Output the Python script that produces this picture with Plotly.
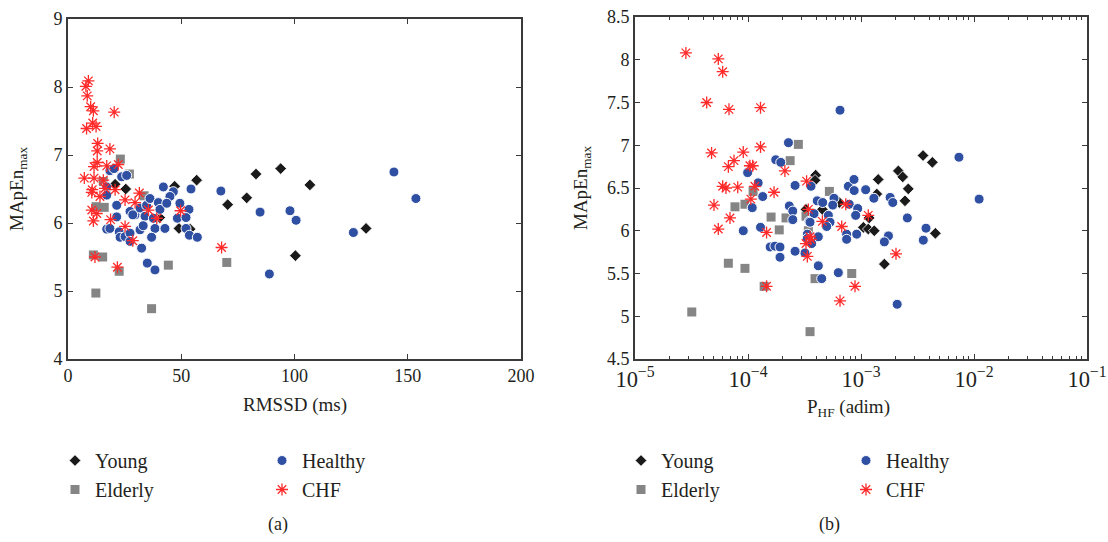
import plotly.graph_objects as go

# ---------------- (a) RMSSD vs MApEn_max ----------------
young_rmssd = [20.8, 25.5, 40.5, 47.1, 49.0, 53.9, 56.8, 70.5, 78.9, 83.0, 93.9, 100.4, 106.8, 131.6]
young_mapen_a = [6.57, 6.50, 6.08, 6.54, 5.92, 5.91, 6.63, 6.27, 6.37, 6.72, 6.80, 5.52, 6.56, 5.92]

elderly_rmssd = [23.1, 27.1, 15.6, 12.4, 16.0, 33.6, 11.2, 15.3, 22.6, 44.3, 70.1, 12.3, 36.9]
elderly_mapen_a = [6.94, 6.72, 6.61, 6.24, 6.23, 6.40, 5.53, 5.50, 5.29, 5.38, 5.42, 4.97, 4.74]

healthy_rmssd = [18.5, 20.3, 23.7, 25.9, 17.1, 17.1, 21.5, 42.1, 46.5, 45.0, 54.3, 67.5, 27.4, 29.6,
                 31.8, 34.7, 36.2, 39.9, 40.6, 43.6, 49.4, 53.4, 21.5, 34.0, 37.7, 28.6, 17.1, 18.5,
                 22.6, 23.0, 25.2, 27.4, 27.4, 31.8, 33.2, 38.4, 42.8, 48.3, 52.1, 52.1, 53.6, 57.1,
                 36.9, 32.5, 35.0, 38.4, 84.8, 98.0, 100.7, 143.9, 153.6, 126.0, 88.9]
healthy_mapen_a = [6.77, 6.80, 6.68, 6.70, 6.53, 6.41, 6.26, 6.53, 6.46, 6.39, 6.50, 6.47, 6.17, 6.12,
                   6.22, 6.26, 6.36, 6.30, 6.20, 6.29, 6.29, 6.20, 6.09, 6.10, 6.07, 6.12, 5.91, 5.92,
                   5.87, 5.79, 5.80, 5.85, 5.73, 5.90, 5.96, 5.92, 5.92, 6.07, 6.08, 5.92, 5.82, 5.79,
                   5.79, 5.63, 5.41, 5.31, 6.16, 6.18, 6.04, 6.75, 6.36, 5.86, 5.25]

chf_rmssd = [9.0, 7.9, 8.5, 10.0, 11.2, 20.4, 10.9, 8.2, 12.4, 13.1, 12.9, 18.5, 12.9, 11.5, 17.1,
             22.2, 7.2, 11.5, 15.6, 10.7, 16.3, 20.8, 31.5, 10.5, 14.1, 25.2, 29.6, 35.5, 10.5, 12.7,
             11.2, 18.8, 39.2, 49.7, 25.2, 28.6, 67.8, 11.9, 21.8]
chf_mapen_a = [8.09, 8.01, 7.87, 7.71, 7.65, 7.63, 7.47, 7.39, 7.42, 7.17, 7.06, 7.09, 6.89, 6.83, 6.84,
               6.86, 6.66, 6.66, 6.63, 6.49, 6.51, 6.49, 6.44, 6.45, 6.39, 6.34, 6.30, 6.19, 6.19, 6.14,
               6.03, 6.05, 6.07, 6.18, 5.95, 5.74, 5.64, 5.50, 5.35]

# ---------------- (b) P_HF vs MApEn_max ----------------
young_phf = [3.54e-3, 4.28e-3, 2.14e-3, 2.34e-3, 1.42e-3, 2.62e-3, 1.38e-3, 2.45e-3, 1.05e-3, 1.16e-3,
             1.31e-3, 4.55e-3, 1.61e-3, 1.18e-3, 3.97e-4, 3.92e-4, 4.55e-4, 3.26e-4, 6.43e-4]
young_mapen_b = [6.88, 6.80, 6.70, 6.63, 6.60, 6.49, 6.43, 6.35, 6.04, 6.02,
                 6.00, 5.97, 5.61, 6.15, 6.65, 6.59, 6.25, 6.25, 6.33]

elderly_phf = [2.79e-4, 2.36e-4, 1.11e-4, 5.25e-4, 7.67e-5, 9.4e-5, 1.60e-4, 2.17e-4, 3.26e-4, 1.89e-4,
               3.42e-4, 6.70e-5, 9.4e-5, 8.28e-4, 1.39e-4, 3.92e-4, 3.18e-5, 3.54e-4]
elderly_mapen_b = [7.01, 6.82, 6.46, 6.46, 6.28, 6.31, 6.16, 6.15, 6.17, 6.01,
                   6.00, 5.62, 5.56, 5.50, 5.35, 5.44, 5.05, 4.82]

healthy_phf = [6.52e-4, 2.28e-4, 1.76e-4, 1.95e-4, 9.93e-5, 1.23e-4, 2.61e-4, 3.61e-4, 7.73e-4, 8.67e-4,
               8.7e-4, 1.10e-3, 1.35e-4, 1.09e-4, 2.32e-4, 2.49e-4, 4.10e-4, 4.58e-4, 5.77e-4, 5.62e-4,
               7.87e-4, 9.35e-4, 3.48e-4, 5.14e-4, 5.32e-4, 4.97e-4, 8.97e-4, 9.08e-5, 1.29e-4, 3.35e-4,
               4.19e-4, 7.46e-4, 9.16e-4, 1.30e-3, 1.81e-3, 1.91e-3, 2.57e-3, 2.49e-4, 3.84e-4, 3.54e-4,
               7.46e-4, 1.75e-3, 1.61e-3, 3.76e-3, 3.56e-3, 3.35e-4, 3.66e-4, 3.19e-4, 1.57e-4, 1.73e-4,
               1.92e-4, 1.92e-4, 2.61e-4, 4.19e-4, 4.49e-4, 6.30e-4, 2.09e-3, 7.36e-3, 1.11e-2]
healthy_mapen_b = [7.41, 7.03, 6.83, 6.80, 6.68, 6.56, 6.53, 6.52, 6.52, 6.60,
                   6.47, 6.48, 6.40, 6.27, 6.29, 6.23, 6.35, 6.33, 6.38, 6.30,
                   6.31, 6.26, 6.11, 6.18, 6.10, 6.05, 6.18, 6.00, 6.04, 5.96,
                   5.93, 5.96, 5.96, 6.38, 6.39, 6.33, 6.15, 6.13, 6.20, 6.10,
                   5.90, 5.94, 5.87, 6.03, 5.89, 5.91, 5.85, 5.74, 5.81, 5.82,
                   5.81, 5.69, 5.76, 5.59, 5.44, 5.51, 5.14, 6.86, 6.37]

chf_phf = [2.82e-5, 5.46e-5, 5.97e-5, 4.31e-5, 6.79e-5, 1.29e-4, 4.76e-5, 9.08e-5, 1.29e-4, 7.52e-5,
           6.70e-5, 1.04e-4, 1.10e-4, 2.12e-4, 3.30e-4, 5.97e-5, 6.38e-5, 8.11e-5, 1.15e-4, 1.70e-4,
           1.06e-4, 5.00e-5, 6.93e-5, 5.46e-5, 1.46e-4, 3.42e-4, 4.55e-4, 7.33e-4, 6.75e-4, 3.54e-4,
           1.16e-3, 3.59e-4, 3.26e-4, 3.35e-4, 2.04e-3, 1.46e-4, 8.85e-4, 6.52e-4]
chf_mapen_b = [8.08, 8.01, 7.86, 7.50, 7.42, 7.44, 6.91, 6.92, 6.98, 6.82,
               6.75, 6.76, 6.76, 6.70, 6.58, 6.52, 6.50, 6.51, 6.52, 6.45,
               6.37, 6.30, 6.15, 6.02, 5.98, 6.25, 6.11, 6.31, 6.05, 5.93,
               6.18, 5.90, 5.85, 5.70, 5.73, 5.35, 5.35, 5.18]

group_names = ["Young", "Elderly", "Healthy", "CHF"]

W, H = 1108, 542
FONT = "Liberation Serif"
TXT = "#231f20"
AX = "#3a3a3a"

styles = {
    "Young": dict(symbol="diamond", size=9, color="#1a1a1a", line=dict(color="white", width=0.8)),
    "Elderly": dict(symbol="square", size=9, color="#858585", line=dict(color="#858585", width=0)),
    "Healthy": dict(symbol="circle", size=10, color="#2f4fa3", line=dict(color="white", width=1)),
    "CHF": dict(symbol="asterisk-open", size=10, color="#ff2a2a", line=dict(color="#ff2a2a", width=1.3)),
}

fig = go.Figure()

left = {"Young": (young_rmssd, young_mapen_a), "Elderly": (elderly_rmssd, elderly_mapen_a),
        "Healthy": (healthy_rmssd, healthy_mapen_a), "CHF": (chf_rmssd, chf_mapen_a)}
right = {"Young": (young_phf, young_mapen_b), "Elderly": (elderly_phf, elderly_mapen_b),
         "Healthy": (healthy_phf, healthy_mapen_b), "CHF": (chf_phf, chf_mapen_b)}

leg_left = {"Young": "legend", "Elderly": "legend", "Healthy": "legend2", "CHF": "legend2"}
leg_right = {"Young": "legend3", "Elderly": "legend3", "Healthy": "legend4", "CHF": "legend4"}

for g in group_names:
    xs, ys = left[g]
    fig.add_trace(go.Scatter(x=xs, y=ys, mode="markers", name=g, marker=styles[g],
                             xaxis="x", yaxis="y", legend=leg_left[g]))
for g in group_names:
    xs, ys = right[g]
    fig.add_trace(go.Scatter(x=xs, y=ys, mode="markers", name=g, marker=styles[g],
                             xaxis="x2", yaxis="y2", legend=leg_right[g]))

axis_common = dict(showline=True, linecolor=AX, linewidth=1.6, mirror="ticks", ticks="inside",
                   ticklen=5, tickwidth=1.4, tickcolor=AX, showgrid=False, zeroline=False,
                   automargin=False,
                   tickfont=dict(family=FONT, size=18, color=TXT))

ybot = (H - 359) / H
fig.update_layout(
    width=W, height=H, margin=dict(l=0, r=0, t=0, b=0, autoexpand=False),
    paper_bgcolor="white", plot_bgcolor="white",
    font=dict(family=FONT, color=TXT),
    xaxis=dict(domain=[68 / W, 521 / W], range=[0, 200], dtick=50, anchor="y", **axis_common),
    yaxis=dict(domain=[ybot, 1 - 19 / H], range=[4, 9], dtick=1, anchor="x", **axis_common),
    xaxis2=dict(domain=[635 / W, 1087 / W], type="log", range=[-5, -1], dtick=1,
                exponentformat="power", anchor="y2",
                minor=dict(ticks="inside", ticklen=3, tickcolor=AX, dtick="D1", showgrid=False),
                **axis_common),
    yaxis2=dict(domain=[ybot, 1 - 17 / H], range=[4.5, 8.5], dtick=0.5, anchor="x2", **axis_common),
)

leg_common = dict(orientation="v", xanchor="left", yanchor="top", bgcolor="rgba(0,0,0,0)",
                  font=dict(family=FONT, size=20, color=TXT), itemsizing="trace",
                  tracegroupgap=0)
ly = 1 - 441 / H
fig.update_layout(
    legend=dict(x=55 / W, y=ly, **leg_common),
    legend2=dict(x=262 / W, y=ly, **leg_common),
    legend3=dict(x=621 / W, y=ly, **leg_common),
    legend4=dict(x=846 / W, y=ly, **leg_common),
)

def ann(text, px, py, size, angle=0):
    fig.add_annotation(text=text, x=px / W, y=1 - py / H, xref="paper", yref="paper",
                       showarrow=False, textangle=angle, xanchor="center", yanchor="middle",
                       font=dict(family=FONT, size=size, color=TXT))

ann("MApEn<sub>max</sub>", 18, 189, 19, -90)
ann("MApEn<sub>max</sub>", 582, 188, 19, -90)
ann("RMSSD (ms)", 295, 405, 19)
ann("P<sub>HF</sub> (adim)", 848, 408, 19)
ann("(a)", 278, 524, 18)
ann("(b)", 829, 524, 18)

fig.write_html("out.html")
